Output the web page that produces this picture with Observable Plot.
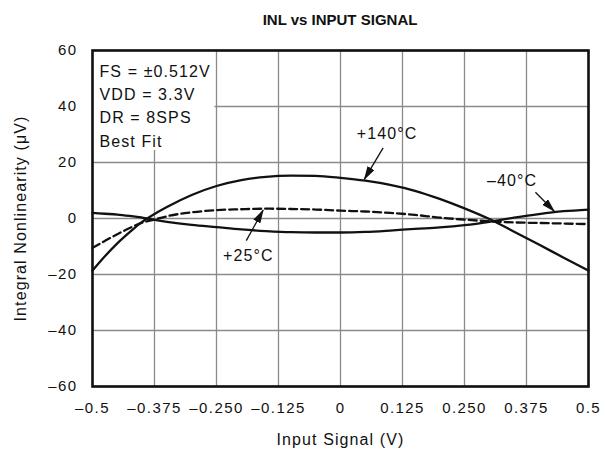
<!DOCTYPE html>
<html>
<head>
<meta charset="utf-8">
<script src="https://cdn.jsdelivr.net/npm/d3@7"></script>
<script src="https://cdn.jsdelivr.net/npm/@observablehq/plot@0.6"></script>
<style>
  body { margin: 0; background: #fff; }
  #title { height: 40px; padding-left: 75px; text-align: center; width: 530px;
           font: bold 15px "Liberation Sans", Arial, sans-serif; line-height: 39px; color: #111; }
  svg [aria-label="x-axis tick label"] text, svg [aria-label="y-axis tick label"] text { letter-spacing: 1.4px; }
  svg .lbl text { letter-spacing: 1.1px; }
</style>
</head>
<body>
<div id="title">INL vs INPUT SIGNAL</div>
<div id="chart"></div>
<script>
// Input signal (V)
const inputSignal = [-0.5, -0.475, -0.45, -0.425, -0.4, -0.375, -0.35, -0.3, -0.25, -0.2, -0.15, -0.1, -0.05, 0, 0.05, 0.1, 0.15, 0.2, 0.25, 0.3, 0.35, 0.4, 0.45, 0.5];
// INL (µV) per temperature
const inl140 = [-18.6, -13.5, -8.9, -4.9, -1.2, 1.6, 4.1, 8.4, 11.6, 13.7, 14.9, 15.3, 15.2, 14.5, 13.5, 12.0, 9.9, 7.0, 3.6, -0.2, -4.7, -9.3, -14.0, -18.6];
const inl25  = [-10.5, -8.0, -5.6, -3.4, -1.5, -0.4, 0.8, 2.2, 3.0, 3.3, 3.5, 3.4, 3.2, 2.8, 2.5, 2.0, 1.3, 0.3, -0.4, -1.0, -1.4, -1.6, -1.8, -2.0];
const inlM40 = [2.0, 1.7, 1.4, 0.9, 0.3, -0.5, -1.2, -2.3, -3.1, -3.9, -4.5, -4.9, -5.0, -5.0, -4.8, -4.3, -3.7, -3.2, -2.4, -1.2, 0.3, 1.6, 2.6, 3.2];

const xTicks = [-0.5, -0.375, -0.25, -0.125, 0, 0.125, 0.25, 0.375, 0.5];
const xTickLabels = ["–0.5", "–0.375", "–0.250", "–0.125", "0", "0.125", "0.250", "0.375", "0.5"];
const yTicks = [-60, -40, -20, 0, 20, 40, 60];
const yTickLabels = ["–60", "–40", "–20", "0", "20", "40", "60"];

const conditions = ["FS = ±0.512V\nVDD = 3.3V\nDR = 8SPS\nBest Fit"];
const labels = [
  {text: "+140°C", x: 0.094, y: 30.4},
  {text: "–40°C", x: 0.346, y: 13.3},
  {text: "+25°C", x: -0.186, y: -13.2}
];
const arrows = [
  {x1: 0.086, y1: 25.2, x2: 0.048, y2: 14.0},
  {x1: 0.393, y1: 9.4, x2: 0.431, y2: 2.6},
  {x1: -0.19, y1: -7.9, x2: -0.156, y2: 3.0}
];

const series = [
  {name: "+140°C", values: inl140},
  {name: "+25°C", values: inl25},
  {name: "-40°C", values: inlM40}
];
const rows = series.flatMap(s => inputSignal.map((x, i) => ({series: s.name, x, y: s.values[i]})));

const plot = Plot.plot({
  width: 605,
  height: 416,
  marginLeft: 92,
  marginRight: 17,
  marginTop: 10,
  marginBottom: 70,
  style: {fontFamily: "'Liberation Sans', Arial, sans-serif", fontSize: "15px", color: "#111", background: "#fff"},
  x: {domain: [-0.5, 0.5]},
  y: {domain: [-60, 60]},
  marks: [
    Plot.gridX(xTicks, {stroke: "#8a8a8a", strokeOpacity: 1, strokeWidth: 1.3}),
    Plot.gridY(yTicks, {stroke: "#8a8a8a", strokeOpacity: 1, strokeWidth: 1.3}),
    Plot.rect([{x1: -0.5, x2: -0.253, y1: 24.3, y2: 60}], {x1: "x1", x2: "x2", y1: "y1", y2: "y2", fill: "white"}),
    Plot.line(rows.filter(d => d.series === "+140°C"), {x: "x", y: "y", stroke: "#111", strokeWidth: 2.3, curve: "monotone-x"}),
    Plot.line(rows.filter(d => d.series === "-40°C"), {x: "x", y: "y", stroke: "#111", strokeWidth: 2.3, curve: "monotone-x"}),
    Plot.line(rows.filter(d => d.series === "+25°C"), {x: "x", y: "y", stroke: "#111", strokeWidth: 2.3, strokeDasharray: "8,4", curve: "monotone-x"}),
    Plot.axisX({ticks: xTicks, tickFormat: (d, i) => xTickLabels[i], tickSize: 0, tickPadding: 16, label: null, fontSize: 15}),
    Plot.axisY({ticks: yTicks, tickFormat: (d, i) => yTickLabels[i], tickSize: 0, tickPadding: 15, label: null, fontSize: 15}),
    Plot.text(conditions, {frameAnchor: "top-left", dx: 7, dy: 10, lineAnchor: "top", textAnchor: "start", lineHeight: 1.45, fontSize: 16, fill: "#111", className: "lbl"}),
    Plot.text(labels, {x: "x", y: "y", text: "text", fontSize: 16, fill: "#111", className: "lbl"}),
    Plot.link(arrows, {x1: "x1", y1: "y1", x2: "x2", y2: "y2", stroke: "#111", strokeWidth: 1.3, className: "annarrow"}),
    Plot.text(["Input Signal (V)"], {frameAnchor: "bottom", dy: 53, lineAnchor: "middle", textAnchor: "middle", fontSize: 16, fill: "#111", className: "lbl"}),
    Plot.text(["Integral Nonlinearity (μV)"], {frameAnchor: "left", dx: -72, rotate: -90, lineAnchor: "middle", textAnchor: "middle", fontSize: 16, fill: "#111", className: "lbl"}),
    Plot.frame({stroke: "#111", strokeWidth: 2.6})
  ]
});

// filled arrowheads for annotation leaders
const svg = d3.select(plot);
svg.insert("defs", ":first-child").append("marker")
  .attr("id", "headfill").attr("viewBox", "0 -4 14 8").attr("refX", 13).attr("refY", 0)
  .attr("markerWidth", 14).attr("markerHeight", 8).attr("markerUnits", "userSpaceOnUse").attr("orient", "auto")
  .append("path").attr("d", "M0,-4L14,0L0,4Z").attr("fill", "#111");
svg.selectAll(".annarrow path").attr("marker-end", "url(#headfill)");

document.getElementById("chart").appendChild(plot);
</script>
</body>
</html>
